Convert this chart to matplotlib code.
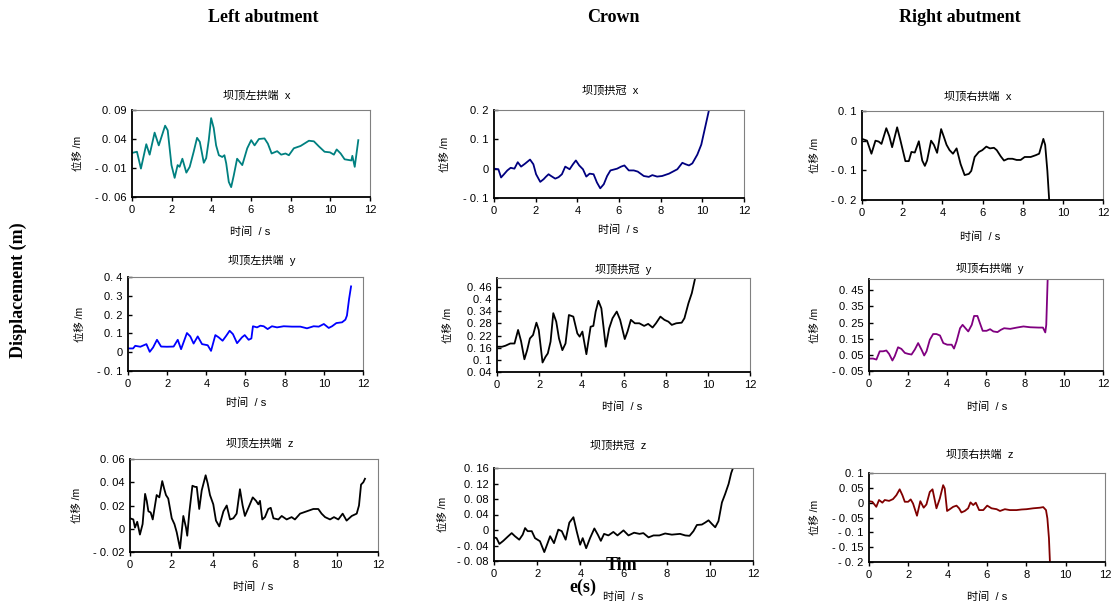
import matplotlib

matplotlib.use('Agg')
import matplotlib.pyplot as plt

W, H = 1112, 604

# ---- data (time in s, displacement in m) ----
t_lx = [0, 0.25, 0.45, 0.72, 0.89, 1.14, 1.35, 1.67, 1.8, 1.99, 2.15, 2.3, 2.4, 2.54, 2.74, 2.91, 3.11, 3.28,
        3.42, 3.62, 3.74, 3.87, 3.99, 4.12, 4.24, 4.38, 4.55, 4.66, 4.75, 4.88, 5.0, 5.13, 5.3, 5.56, 5.81, 6.01,
        6.18, 6.4, 6.68, 6.85, 7.04, 7.32, 7.52, 7.74, 7.91, 8.16, 8.5, 8.92, 9.17, 9.43, 9.71, 9.98, 10.18,
        10.32, 10.52, 10.72, 11.06, 11.11, 11.23, 11.41]
d_lx = [0.016, 0.018, -0.011, 0.031, 0.013, 0.051, 0.029, 0.063, 0.055, -0.005, -0.027, -0.005, -0.008, 0.006,
        -0.018, -0.008, 0.018, 0.042, 0.035, -0.001, 0.007, 0.038, 0.076, 0.059, 0.029, 0.012, 0.009, 0.012,
        -0.002, -0.034, -0.043, -0.023, 0.006, -0.005, 0.024, 0.038, 0.029, 0.040, 0.041, 0.032, 0.015, 0.019,
        0.013, 0.015, 0.012, 0.024, 0.028, 0.037, 0.036, 0.027, 0.018, 0.017, 0.013, 0.022, 0.015, 0.005, 0.003,
        0.011, -0.008, 0.038]

t_cx = [0, 0.21, 0.34, 0.48, 0.64, 0.8, 0.98, 1.14, 1.3, 1.49, 1.73, 1.89, 2.02, 2.22, 2.38, 2.5, 2.62, 2.74,
        2.94, 3.1, 3.26, 3.42, 3.63, 3.79, 3.93, 4.09, 4.27, 4.43, 4.59, 4.78, 4.94, 5.1, 5.27, 5.43, 5.59, 5.75,
        5.91, 6.1, 6.26, 6.47, 6.71, 6.9, 7.19, 7.43, 7.6, 7.83, 8.07, 8.4, 8.8, 9.04, 9.2, 9.36, 9.52, 9.76,
        9.95, 10.11, 10.32, 10.5]
d_cx = [0.0, -0.002, -0.03, -0.019, -0.006, 0.003, 0.0, 0.022, 0.007, 0.017, 0.031, 0.015, -0.019, -0.045,
        -0.036, -0.027, -0.019, -0.025, -0.034, -0.029, -0.019, 0.007, -0.002, 0.015, 0.028, 0.011, -0.002,
        -0.027, -0.017, -0.019, -0.047, -0.067, -0.053, -0.025, -0.006, -0.003, 0.0, 0.007, 0.011, -0.006,
        -0.006, -0.01, -0.025, -0.028, -0.022, -0.027, -0.025, -0.017, -0.002, 0.02, 0.015, 0.011, 0.018, 0.048,
        0.082, 0.133, 0.2, 0.3]

t_rx = [0, 0.25, 0.47, 0.67, 0.83, 0.97, 1.21, 1.36, 1.5, 1.75, 1.91, 2.16, 2.33, 2.46, 2.63, 2.83, 3.0, 3.13,
        3.24, 3.44, 3.58, 3.74, 3.94, 4.08, 4.21, 4.36, 4.53, 4.71, 4.91, 5.11, 5.32, 5.44, 5.61, 5.82, 5.99,
        6.19, 6.37, 6.57, 6.71, 6.91, 7.07, 7.27, 7.49, 7.7, 7.9, 8.1, 8.4, 8.65, 8.82, 9.03, 9.12, 9.23, 9.32,
        9.37]
d_rx = [0.006, 0.0, -0.044, 0.0, -0.003, -0.011, 0.042, 0.015, -0.022, 0.045, 0.002, -0.069, -0.069, -0.038,
        -0.04, -0.002, -0.067, -0.085, -0.067, 0.0, -0.014, -0.041, 0.039, 0.012, -0.014, -0.032, -0.044, -0.026,
        -0.079, -0.116, -0.112, -0.102, -0.055, -0.038, -0.032, -0.02, -0.026, -0.024, -0.032, -0.053, -0.067,
        -0.061, -0.061, -0.065, -0.065, -0.055, -0.055, -0.049, -0.044, 0.006, -0.014, -0.102, -0.2, -0.27]

t_ly = [0, 0.26, 0.37, 0.63, 0.94, 1.11, 1.28, 1.48, 1.69, 1.99, 2.33, 2.54, 2.71, 3.01, 3.18, 3.35, 3.56, 3.78,
        4.07, 4.24, 4.46, 4.63, 4.83, 5.02, 5.19, 5.36, 5.57, 5.82, 5.96, 6.16, 6.3, 6.38, 6.59, 6.76, 6.93,
        7.13, 7.35, 7.61, 7.95, 8.37, 8.8, 9.14, 9.48, 9.74, 10.0, 10.25, 10.42, 10.64, 10.93, 11.1, 11.18,
        11.29, 11.39]
d_ly = [0.02, 0.02, 0.034, 0.029, 0.043, 0.002, 0.025, 0.066, 0.03, 0.029, 0.03, 0.066, 0.016, 0.102, 0.084,
        0.046, 0.084, 0.043, 0.037, 0.007, 0.091, 0.079, 0.061, 0.088, 0.114, 0.096, 0.048, 0.079, 0.091, 0.066,
        0.073, 0.138, 0.132, 0.141, 0.138, 0.123, 0.138, 0.132, 0.138, 0.136, 0.136, 0.127, 0.138, 0.136, 0.15,
        0.129, 0.138, 0.155, 0.159, 0.173, 0.195, 0.284, 0.35]

t_cy = [0, 0.24, 0.4, 0.63, 0.83, 1.0, 1.14, 1.3, 1.43, 1.56, 1.71, 1.87, 1.98, 2.16, 2.3, 2.41, 2.54, 2.67,
        2.81, 2.94, 3.1, 3.25, 3.41, 3.62, 3.81, 3.92, 4.05, 4.24, 4.44, 4.57, 4.68, 4.81, 4.95, 5.16, 5.32,
        5.48, 5.68, 5.84, 6.06, 6.19, 6.35, 6.54, 6.75, 6.98, 7.17, 7.38, 7.54, 7.75, 7.94, 8.13, 8.29, 8.5,
        8.76, 8.89, 9.08, 9.24, 9.4, 9.52]
d_cy = [0.165, 0.165, 0.17, 0.181, 0.181, 0.248, 0.193, 0.103, 0.148, 0.206, 0.223, 0.284, 0.248, 0.087, 0.115,
        0.132, 0.19, 0.331, 0.289, 0.206, 0.148, 0.181, 0.322, 0.314, 0.231, 0.215, 0.24, 0.128, 0.264, 0.268,
        0.339, 0.392, 0.355, 0.165, 0.256, 0.306, 0.339, 0.298, 0.203, 0.24, 0.298, 0.281, 0.281, 0.268, 0.278,
        0.26, 0.281, 0.314, 0.298, 0.289, 0.273, 0.281, 0.284, 0.306, 0.38, 0.43, 0.505, 0.57]

t_ry = [0, 0.21, 0.38, 0.55, 0.72, 0.89, 1.03, 1.2, 1.32, 1.49, 1.66, 1.84, 2.01, 2.18, 2.35, 2.52, 2.69, 2.83,
        2.95, 3.12, 3.29, 3.46, 3.64, 3.81, 4.01, 4.24, 4.36, 4.49, 4.67, 4.8, 4.92, 5.09, 5.27, 5.39, 5.56,
        5.69, 5.83, 6.03, 6.21, 6.38, 6.59, 6.76, 6.93, 7.24, 7.58, 7.92, 8.27, 8.7, 8.92, 9.04, 9.09, 9.16,
        9.19]
d_ry = [0.027, 0.027, 0.021, 0.072, 0.072, 0.077, 0.056, 0.015, 0.042, 0.097, 0.087, 0.062, 0.056, 0.052, 0.083,
        0.123, 0.083, 0.046, 0.072, 0.144, 0.179, 0.179, 0.17, 0.123, 0.113, 0.113, 0.089, 0.134, 0.215, 0.236,
        0.219, 0.195, 0.236, 0.291, 0.291, 0.246, 0.199, 0.199, 0.209, 0.195, 0.191, 0.205, 0.215, 0.211, 0.219,
        0.226, 0.221, 0.219, 0.219, 0.189, 0.236, 0.511, 0.58]

t_lz = [0, 0.16, 0.24, 0.35, 0.48, 0.61, 0.73, 0.81, 0.89, 1.0, 1.1, 1.29, 1.42, 1.56, 1.66, 1.74, 1.85, 2.02,
        2.15, 2.26, 2.42, 2.58, 2.71, 2.77, 2.87, 3.02, 3.15, 3.23, 3.35, 3.47, 3.66, 3.76, 3.87, 4.03, 4.16,
        4.32, 4.52, 4.68, 4.84, 5.0, 5.16, 5.32, 5.45, 5.56, 5.73, 5.94, 6.1, 6.21, 6.29, 6.4, 6.53, 6.69, 6.81,
        6.94, 7.18, 7.34, 7.58, 7.82, 7.98, 8.23, 8.55, 8.87, 9.11, 9.27, 9.44, 9.68, 9.87, 10.08, 10.29,
        10.48, 10.73, 10.97, 11.08, 11.18, 11.29, 11.37]
d_lz = [0.009, 0.008, 0.001, 0.006, -0.005, 0.004, 0.03, 0.024, 0.015, 0.014, 0.008, 0.029, 0.027, 0.041,
        0.034, 0.029, 0.026, 0.009, 0.004, -0.003, -0.017, 0.011, 0.001, -0.006, 0.014, 0.037, 0.036, 0.036,
        0.017, 0.033, 0.046, 0.039, 0.029, 0.021, 0.007, 0.002, 0.015, 0.02, 0.008, 0.009, 0.013, 0.034, 0.02,
        0.011, 0.018, 0.027, 0.024, 0.021, 0.024, 0.008, 0.01, 0.017, 0.018, 0.009, 0.008, 0.011, 0.008, 0.01,
        0.008, 0.013, 0.015, 0.017, 0.017, 0.013, 0.01, 0.008, 0.01, 0.008, 0.013, 0.007, 0.011, 0.013, 0.02,
        0.038, 0.04, 0.043]

t_cz = [0, 0.12, 0.25, 0.43, 0.66, 0.82, 0.97, 1.17, 1.33, 1.44, 1.56, 1.75, 1.9, 2.13, 2.33, 2.47, 2.6, 2.78,
        2.98, 3.14, 3.32, 3.49, 3.68, 3.83, 3.99, 4.11, 4.27, 4.45, 4.65, 4.81, 4.95, 5.1, 5.3, 5.53, 5.72, 6.0,
        6.23, 6.49, 6.74, 6.92, 7.16, 7.39, 7.66, 7.93, 8.24, 8.62, 8.86, 9.06, 9.24, 9.4, 9.63, 9.78, 9.94,
        10.09, 10.25, 10.4, 10.56, 10.71, 10.87, 10.99, 11.1]
d_cz = [-0.019, -0.021, -0.036, -0.028, -0.016, -0.008, -0.016, -0.025, -0.012, 0.005, -0.003, -0.003, -0.021,
        -0.029, -0.057, -0.036, -0.016, -0.034, 0.001, -0.003, -0.025, 0.019, 0.033, -0.003, -0.038, -0.021,
        -0.047, -0.021, 0.004, -0.012, -0.028, -0.01, -0.014, -0.005, -0.014, -0.001, -0.014, -0.007, -0.01,
        -0.008, -0.019, -0.014, -0.014, -0.009, -0.012, -0.01, -0.014, -0.015, -0.003, 0.013, 0.014, 0.019,
        0.025, 0.016, 0.007, 0.023, 0.071, 0.093, 0.119, 0.147, 0.164]

t_rz = [0, 0.17, 0.37, 0.51, 0.68, 0.8, 1.02, 1.22, 1.39, 1.56, 1.7, 1.82, 1.99, 2.12, 2.24, 2.44, 2.61, 2.78,
        2.92, 3.09, 3.23, 3.43, 3.6, 3.77, 3.85, 3.97, 4.11, 4.28, 4.45, 4.58, 4.7, 4.87, 5.04, 5.16, 5.3, 5.43,
        5.6, 5.81, 6.01, 6.23, 6.49, 6.66, 6.91, 7.16, 7.5, 7.76, 8.01, 8.35, 8.69, 8.86, 9.0, 9.07, 9.15, 9.2,
        9.24]
d_rz = [0.005, 0.003, -0.014, 0.009, 0.0, 0.009, 0.006, 0.012, 0.025, 0.045, 0.025, 0.003, 0.003, 0.011,
        -0.003, -0.044, 0.005, -0.017, -0.006, 0.036, 0.045, -0.019, 0.014, 0.059, 0.048, -0.028, -0.022,
        -0.014, -0.01, -0.019, -0.033, -0.028, -0.019, 0.001, -0.008, 0.0, -0.025, -0.025, -0.01, -0.019, -0.022,
        -0.028, -0.022, -0.025, -0.025, -0.023, -0.022, -0.019, -0.017, -0.015, -0.025, -0.053, -0.12, -0.2,
        -0.253]

col_titles = ['Left abutment', 'Crown', 'Right abutment']
panel_titles = ['坝顶左拱端  x', '坝顶拱冠  x', '坝顶右拱端  x',
                '坝顶左拱端  y', '坝顶拱冠  y', '坝顶右拱端  y',
                '坝顶左拱端  z', '坝顶拱冠  z', '坝顶右拱端  z']
series = [(t_lx, d_lx), (t_cx, d_cx), (t_rx, d_rx),
          (t_ly, d_ly), (t_cy, d_cy), (t_ry, d_ry),
          (t_lz, d_lz), (t_cz, d_cz), (t_rz, d_rz)]
colors = ['#008080', '#000080', 'black', '#0000ff', 'black', '#800080', 'black', 'black', '#800000']
yticks = [[-0.06, -0.01, 0.04, 0.09], [-0.1, 0, 0.1, 0.2], [-0.2, -0.1, 0, 0.1],
          [-0.1, 0, 0.1, 0.2, 0.3, 0.4], [0.04, 0.1, 0.16, 0.22, 0.28, 0.34, 0.4, 0.46],
          [-0.05, 0.05, 0.15, 0.25, 0.35, 0.45],
          [-0.02, 0, 0.02, 0.04, 0.06], [-0.08, -0.04, 0, 0.04, 0.08, 0.12, 0.16],
          [-0.2, -0.15, -0.1, -0.05, 0, 0.05, 0.1]]
ylims = [(-0.06, 0.09), (-0.1, 0.2), (-0.2, 0.1), (-0.1, 0.4), (0.04, 0.505), (-0.05, 0.52),
         (-0.02, 0.06), (-0.08, 0.16), (-0.2, 0.1)]
xticks = [0, 2, 4, 6, 8, 10, 12]

# axes boxes in pixels: left, right, top, bottom
boxes = [(132, 370, 110, 197), (494, 744, 110, 198), (862, 1103, 111, 200),
         (128, 363, 277, 371), (497, 750, 278, 372), (869, 1103, 279, 371),
         (130, 378, 459, 552), (494, 753, 468, 561), (869, 1105, 473, 562)]
title_pos = [(257, 96), (610, 91), (978, 97), (262, 261), (623, 270), (990, 268),
             (260, 444), (618, 446), (980, 455)]
ylab_x = [78, 445, 815, 80, 448, 815, 77, 443, 815]
xlab_pos = [(250, 232), (618, 230), (980, 237), (246, 403), (622, 407), (987, 407),
            (253, 587), (623, 597), (987, 597)]

FAM = ['Liberation Sans', 'Noto Sans CJK SC', 'DejaVu Sans']
SERIF = ['Liberation Serif', 'DejaVu Serif']


def fmt(v):
    if v == 0:
        return '0'
    s = '{:g}'.format(abs(v)).replace('.', '. ')
    return ('- ' if v < 0 else '') + s


fig = plt.figure(figsize=(W / 100, H / 100), dpi=100)


def ftext(x, y, s, **kw):
    fig.text(x / W, 1 - y / H, s, **kw)


for i in range(9):
    l, r, t, b = boxes[i]
    ax = fig.add_axes([l / W, 1 - b / H, (r - l) / W, (b - t) / H])
    tt, dd = series[i]
    ax.plot(tt, dd, color=colors[i], lw=1.3)
    ax.set_xlim(0, 12)
    ax.set_ylim(*ylims[i])
    ax.set_xticks(xticks)
    ax.set_xticklabels([str(x) for x in xticks], family=FAM, fontsize=8)
    ax.set_yticks(yticks[i])
    ax.set_yticklabels([fmt(v) for v in yticks[i]], family=FAM, fontsize=8)
    ax.tick_params(axis='x', direction='out', length=3, width=1, pad=3)
    ax.tick_params(axis='y', direction='in', length=3, width=1, pad=4)
    for s in ['left', 'bottom']:
        ax.spines[s].set_linewidth(1.3)
        ax.spines[s].set_color('black')
    for s in ['top', 'right']:
        ax.spines[s].set_linewidth(0.8)
        ax.spines[s].set_color('#808080')
    ax.set_facecolor('white')

    ftext(title_pos[i][0], title_pos[i][1], panel_titles[i], family=FAM, fontsize=8,
          ha='center', va='center')
    ftext(ylab_x[i], (t + b) / 2, '位移 /m', family=FAM, fontsize=7.5, rotation=90,
          ha='center', va='center')
    ftext(xlab_pos[i][0], xlab_pos[i][1], '时间  / s', family=FAM, fontsize=8,
          ha='center', va='center')

for x, s in zip([263, 613, 960], col_titles):
    ftext(x, 17, s, family=SERIF, fontsize=13, fontweight='bold', ha='center', va='center')

ftext(18, 290, 'Displacement (m)', family=SERIF, fontsize=13, fontweight='bold',
      rotation=90, ha='center', va='center')
ftext(622, 565, 'Tim', family=SERIF, fontsize=13, fontweight='bold', ha='center', va='center')
ftext(583, 587, 'e(s)', family=SERIF, fontsize=13, fontweight='bold', ha='center', va='center')

plt.savefig('out.png', dpi=100)
